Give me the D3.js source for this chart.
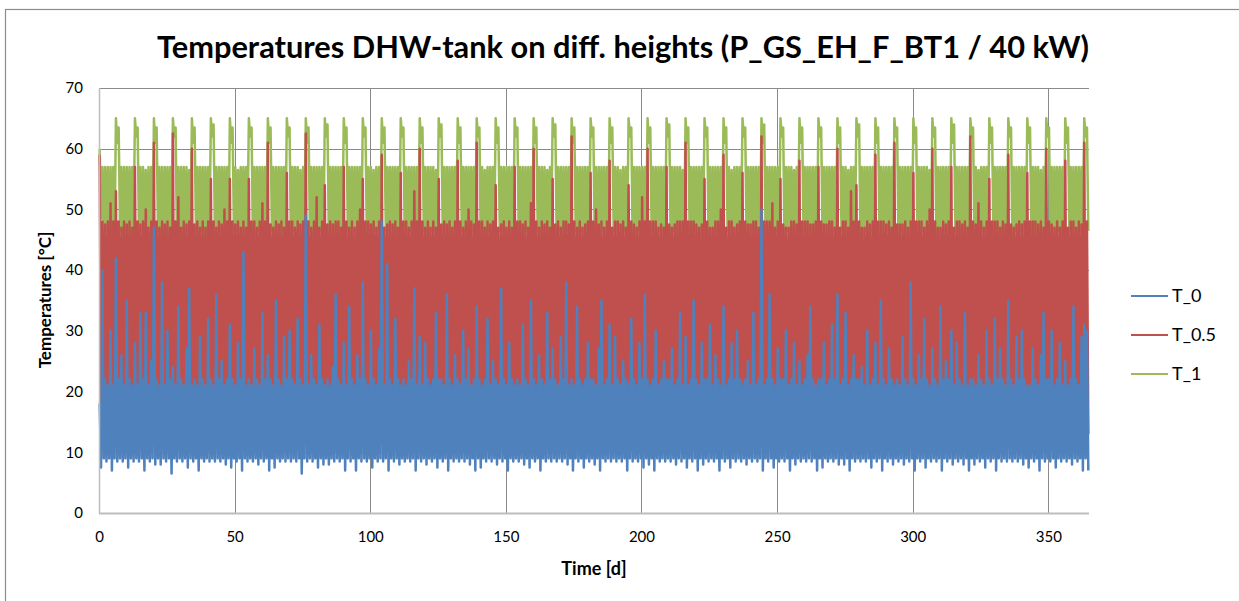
<!DOCTYPE html>
<html>
<head>
<meta charset="utf-8">
<script src="https://cdn.jsdelivr.net/npm/d3@7"></script>
<style>
  body { margin: 0; background: #fff; }
  svg { display: block; }
  text { font-family: Lato, "Open Sans", sans-serif; fill: #000; }
</style>
</head>
<body>
<svg id="canvas" width="1239" height="601"></svg>
<script>
// one row = one week (7 days), last row = day 364
// daily maxima / minima, in °C
const t1Hi = [
  60,57,57,57,57,57,65, 63.5,57,57,57,57,57,65, 63.5,57,57,56.5,57,57,65, 63.5,57,57,57,57,57,65, // w0-3
  63.5,57,57,57,57,56.5,65, 63.5,57,57,57,57,57,65, 64,57,57,57,57,57,65, 63.5,57,56.5,57,57,57,65, // w4-7
  63.5,57,57,57,57,57,65, 63.5,57,57,57,57,57,65, 63.5,57,57,57,56.5,57,65, 63.5,57,57,57,57,57,65, // w8-11
  64,57,57,57,57,57,65, 63.5,57,57,57,57,57,65, 63.5,57,57,56.5,57,57,65, 63.5,57,57,57,57,57,65, // w12-15
  63.5,57,57,57,57,57,65, 63.5,57,57,57,57,56.5,65, 64,57,57,57,57,57,65, 63.5,57,57,57,57,57,65, // w16-19
  63.5,57,56.5,57,57,57,65, 63.5,57,57,57,57,57,65, 63.5,57,57,57,57,57,65, 63.5,57,57,57,56.5,57,65, // w20-23
  64,57,57,57,57,57,65, 63.5,57,57,57,57,57,65, 63.5,57,57,57,57,57,65, 63.5,57,57,56.5,57,57,65, // w24-27
  63.5,57,57,57,57,57,65, 63.5,57,57,57,57,57,65, 64,57,57,57,57,56.5,65, 63.5,57,57,57,57,57,65, // w28-31
  63.5,57,57,57,57,57,65, 63.5,57,56.5,57,57,57,65, 63.5,57,57,57,57,57,65, 64,57,57,57,57,57,65, // w32-35
  63.5,57,57,57,56.5,57,65, 63.5,57,57,57,57,57,65, 63.5,57,57,57,57,57,65, 63.5,57,57,56.5,57,57,65, // w36-39
  64,57,57,57,57,57,65, 63.5,57,57,57,57,57,65, 63.5,57,57,57,57,57,65, 63.5,57,57,57,57,56.5,65, // w40-43
  63.5,57,57,57,57,57,65, 64,57,57,57,57,57,65, 63.5,57,56.5,57,57,57,65, 63.5,57,57,57,57,57,65, // w44-47
  63.5,57,57,57,57,57,65, 63.5,57,57,57,56.5,57,65, 63.5,57,57,57,57,57,65, 63.5,57,57,57,57,57,65, // w48-51
  63.5
];
const t1Lo = [
  48.5,45.5,46.5,44.5,46.5,45.5,61, 46.5,44.5,46.5,45.5,44,46.5,62, 45.5,46.5,44.5,46.5,45.5,44.5,61, 46.5,45.5,44.5,46.5,45.5,46.5,62, // w0-3
  44.5,46.5,45.5,44,46.5,45.5,61, 46.5,45.5,46.5,44.5,45.5,46.5,62, 45.5,44.5,46.5,45.5,46.5,44.5,61, 46.5,46.5,44.5,45.5,44.5,46.5,62, // w4-7
  44.5,45.5,46.5,46.5,45.5,44,61, 46.5,44.5,45.5,44.5,46.5,45.5,62, 45.5,46.5,44.5,46.5,45.5,46.5,61, 46.5,45.5,44,45.5,46.5,44.5,62, // w8-11
  44.5,46.5,45.5,46.5,44.5,46.5,61, 46.5,44.5,46.5,45.5,45.5,44.5,62, 45.5,45.5,44.5,46.5,46.5,45.5,61, 46.5,46.5,45.5,44.5,45.5,46.5,62, // w12-15
  44.5,45.5,46.5,45.5,44,45.5,61, 46.5,44.5,45.5,46.5,46.5,44.5,62, 45.5,46.5,44.5,45.5,45.5,46.5,61, 46.5,45.5,46.5,44.5,46.5,45.5,62, // w16-19
  44.5,44.5,45.5,46.5,45.5,46.5,61, 46.5,46.5,44,45.5,44.5,45.5,62, 45.5,45.5,46.5,46.5,46.5,44.5,61, 46.5,44.5,45.5,44.5,45.5,46.5,62, // w20-23
  44.5,46.5,44.5,46.5,46.5,45.5,61, 46.5,45.5,46.5,45.5,44.5,46.5,62, 45.5,44.5,45.5,46.5,45.5,44.5,61, 46.5,46.5,44.5,44,46.5,45.5,62, // w24-27
  44.5,45.5,46.5,45.5,45.5,46.5,61, 46.5,44.5,45.5,46.5,44.5,45.5,62, 45.5,46.5,44.5,45.5,46.5,44.5,61, 46.5,45.5,46.5,44.5,45.5,46.5,62, // w28-31
  44.5,44.5,45.5,46.5,46.5,45.5,61, 46.5,46.5,44,45.5,44.5,46.5,62, 45.5,45.5,46.5,46.5,45.5,44.5,61, 46.5,44.5,45.5,44.5,46.5,45.5,62, // w32-35
  44.5,46.5,44.5,46.5,45.5,46.5,61, 46.5,45.5,46.5,45.5,44.5,45.5,62, 45.5,44.5,45.5,46.5,46.5,44.5,61, 46.5,46.5,44.5,44,45.5,46.5,62, // w36-39
  44.5,45.5,46.5,45.5,46.5,45.5,61, 46.5,44.5,45.5,46.5,44.5,46.5,62, 45.5,46.5,44.5,45.5,45.5,44.5,61, 46.5,45.5,46.5,44.5,46.5,45.5,62, // w40-43
  44.5,44.5,45.5,46.5,45.5,46.5,61, 46.5,46.5,44,45.5,44.5,45.5,62, 45.5,45.5,46.5,46.5,46.5,44.5,61, 46.5,44.5,45.5,44.5,45.5,46.5,62, // w44-47
  44.5,46.5,44.5,46.5,46.5,45.5,61, 46.5,45.5,46.5,45.5,44.5,46.5,62, 45.5,44.5,45.5,46.5,45.5,44.5,61, 46.5,46.5,44.5,45.5,46.5,45.5,62, // w48-51
  46.5
];
const t05Hi = [
  59,48,47.5,48,51,48,53, 48,47,48,47.5,48,47,57, 48,47.5,48,50,47,48,61, 48,47,48,47.5,48,47,62.5, // w0-3
  48,52,47,48,47.5,48,60, 47.5,48,47,48,47,48,55, 48,47,48,47.5,50,48,55, 48,47.5,48,47,48,47,55, // w4-7
  48,48,47,48,51,48,61, 47.5,47,48,47.5,48,47,56, 48,48,47,48,47.5,48,62.5, 48,47,48,52,47,48,54, // w8-11
  47.5,48,47.5,48,48,47,57, 48,47,48,47,48,50,55, 48,48,47.5,48,47,48,59, 47,47.5,48,47.5,48,47,56, // w12-15
  48,48,47,48,53,48,60, 48,47,48,47,48,47,55, 47.5,48,47.5,48,47,48,58, 48,47,48,50,48,47.5,61, // w16-19
  48,48,47,48,47.5,48,54, 47,47.5,48,47,48,47,57, 48,48,47.5,48,47,51,60, 48,47,48,47.5,48,47,55, // w20-23
  47.5,48,47,48,48,47.5,62, 48,47,48,47,47.5,48,56, 48,50,47.5,48,47,48,58, 47,48,48,47.5,48,47,54, // w24-27
  48,47.5,47,48,52,48,60, 48,48,48,47,47.5,47,57, 47.5,47,47.5,48,48,48,61, 48,48,48,47.5,47,47.5,55, // w28-31
  48,47,47,48,48,50,59, 47,48,48,47,47.5,48,56, 48,47.5,47.5,48,48,47,62, 48,48,48,51,47,48,55, // w32-35
  47.5,47,47,48,48,47.5,58, 48,48,48,47.5,47.5,48,57, 48,47.5,47.5,48,48,47,60, 47,48,48,47,53,48,54, // w36-39
  48,47,47,48,47.5,48,59, 48,48,48,47.5,48,47,61, 47.5,47.5,47.5,48,47,48,56, 48,48,48,47,48,50,60, // w40-43
  48,47,47,48,47.5,48,57, 47,48,48,47.5,48,47,62, 48,47.5,51,48,47,48,55, 48,48,48,47,48,47.5,59, // w44-47
  47.5,47,47.5,48,47.5,48,56, 48,48,48,47.5,48,47,60, 48,47.5,47,48,47,48,58, 47,48,48,47,48,47.5,61, // w48-51
  48
];
const t05Lo = [
  15,19,18,13,20,17,19, 18,16,20,19,14,18,20, 19,18,15,20,17,19,13, 17,20,19,18,16,12.5,19, // w0-3
  20,17,14,19,18,20,17, 18,19,20,15,19,17,20, 16,18,19,20,13,19,18, 19,20,17,18,19,16,20, // w4-7
  18,15,19,20,17,19,14, 20,18,18,16,20,13,19, 17,19,20,19,15,18,20, 19,14,18,20,19,17,18, // w8-11
  18,20,16,17,20,19,15, 20,17,19,13,18,20,19, 16,19,20,18,19,15,20, 19,18,14,20,17,19,18, // w12-15
  18,20,19,17,20,14,19, 20,16,18,19,18,20,13, 17,19,20,15,19,18,20, 19,18,17,20,14,19,18, // w16-19
  18,20,19,18,20,16,19, 15,17,20,19,18,20,14, 20,19,18,14,19,17,20, 18,16,19,20,18,19,15, // w20-23
  19,20,13,18,20,17,19, 17,18,20,19,15,20,18, 20,19,18,16,19,18,14, 18,14,19,20,17,19,20, // w24-27
  19,20,17,18,20,13,19, 16,18,20,19,18,20,17, 20,19,15,17,19,18,20, 18,17,19,20,14,19,18, // w28-31
  19,20,18,16,20,17,15, 17,15,20,19,18,20,19, 20,19,17,18,19,14,20, 18,20,19,13,20,18,19, // w32-35
  19,17,18,20,16,19,15, 15,19,20,18,19,20,18, 20,18,14,19,18,17,20, 18,20,19,17,20,15,19, // w36-39
  17,19,18,20,13,19,18, 19,16,20,18,19,20,17, 20,18,19,14,18,19,20, 18,20,17,19,20,16,19, // w40-43
  16,19,20,18,17,20,14, 19,17,18,20,19,13,20, 20,19,15,18,20,18,19, 17,20,19,19,16,20,18, // w44-47
  19,18,20,14,19,17,20, 18,15,19,20,18,19,16, 20,19,18,17,20,14,19, 18,20,19,18,17,19,15, // w48-51
  13
];
const t0Hi = [
  18,40,22,21,30,21,42, 22,26,21,35,22,21,28, 21,33,22,33,21,25,47, 22,21,38,21,30,22,24, // w0-3
  21,34,22,21,27,37,21, 22,21,29,22,21,32,22, 21,36,22,25,21,22,31, 22,21,28,22,43,21,22, // w4-7
  21,27,22,21,33,22,26, 22,21,35,22,21,29,22, 30,22,21,32,22,21,49, 21,26,22,21,31,22,21, // w8-11
  22,21,24,36,22,21,28, 21,34,22,21,26,22,38, 22,21,30,22,21,27,48, 21,41,22,21,32,22,21, // w12-15
  22,21,25,22,37,21,29, 21,28,22,21,22,33,22, 22,21,36,22,21,26,22, 21,30,22,27,21,22,34, // w16-19
  22,21,22,32,21,25,22, 21,37,22,21,28,22,21, 22,21,31,22,21,35,22, 21,26,22,21,33,22,27, // w20-23
  22,21,29,22,38,21,22, 21,34,22,21,22,28,22, 22,21,27,35,21,22,31, 21,29,22,21,25,22,21, // w24-27
  32,22,21,28,22,36,22, 21,22,30,21,22,25,22, 22,27,21,22,33,21,29, 21,22,35,22,21,28,22, // w28-31
  22,31,21,26,22,21,34, 21,22,28,22,30,22,21, 22,25,21,33,21,22,50, 21,22,36,22,21,27,22, // w32-35
  22,30,21,22,28,21,25, 21,22,26,34,22,21,22, 22,28,21,22,31,22,36, 21,22,33,21,22,26,22, // w36-39
  22,24,21,30,21,22,28, 21,35,22,21,27,22,21, 22,21,29,22,21,38,22, 21,26,22,32,22,21,27, // w40-43
  22,21,34,22,25,22,30, 21,28,22,21,33,21,22, 22,21,26,22,21,30,22, 21,32,22,27,22,21,35, // w44-47
  22,21,29,22,30,22,21, 21,27,22,21,26,33,22, 22,30,21,22,28,21,25, 21,22,34,22,21,29,31, // w48-51
  30
];
const t0Lo = [
  7.5,9,8.5,9,7,9,8.5, 9,8.5,9,7.5,9,8.5,9, 8.5,9,7,9,8.5,9,8, 9,8,9,8.5,9,6.5,9, // w0-3
  8.5,9,8.5,9,7.5,9,8.5, 9,7,9,8.5,9,8.5,9, 8.5,9,8.5,9,8,9,7.5, 9,8.5,9,7,9,8.5,9, // w4-7
  8.5,9,8,9,8.5,9,7, 9,7.5,9,8.5,9,8.5,9, 8.5,9,8.5,9,6.5,9,8.5, 9,8.5,9,7.5,9,8,9, // w8-11
  8,9,8.5,9,8.5,9,7, 9,8.5,9,7,9,8.5,9, 8.5,9,7.5,9,8.5,9,8.5, 9,7,9,8.5,9,8,9, // w12-15
  8.5,9,8.5,9,7,9,8.5, 9,8,9,8.5,9,7.5,9, 8.5,9,7,9,8.5,9,8.5, 9,8.5,9,8,9,7,9, // w16-19
  7.5,9,8.5,9,8.5,9,8, 9,8.5,9,7,9,8.5,9, 8.5,9,8,9,7.5,9,8.5, 9,7,9,8.5,9,8.5,9, // w20-23
  8.5,9,8.5,9,8,9,7, 9,8.5,9,7.5,9,8.5,9, 8,9,7,9,8.5,9,8.5, 9,8.5,9,8.5,9,7,9, // w24-27
  8.5,9,8.5,9,7.5,9,8, 9,7,9,8.5,9,8.5,9, 8.5,9,8,9,8.5,9,7.5, 9,8.5,9,7,9,8,9, // w28-31
  8.5,9,8.5,9,7,9,8.5, 9,7.5,9,8.5,9,8.5,9, 8,9,8.5,9,8.5,9,7, 9,8.5,9,7.5,9,8.5,9, // w32-35
  8.5,9,7,9,8,9,8.5, 9,8.5,9,8.5,9,7,9, 7.5,9,8.5,9,8.5,9,8, 9,8,9,7,9,8.5,9, // w36-39
  8.5,9,8.5,9,7.5,9,8.5, 9,7,9,8.5,9,8,9, 8.5,9,8,9,8.5,9,7, 9,8.5,9,7.5,9,8.5,9, // w40-43
  8.5,9,7,9,8.5,9,8, 9,8.5,9,8,9,7,9, 8,9,8.5,9,7.5,9,8.5, 9,7,9,8.5,9,8.5,9, // w44-47
  8.5,9,8.5,9,8,9,7.5, 9,8.5,9,7,9,8.5,9, 8.5,9,7.5,9,8.5,9,8.5, 9,8,9,8.5,9,7,9, // w48-51
  7
];

const seriesNames = ["T_0", "T_0.5", "T_1"];
const seriesColors = ["#4F81BD", "#C0504D", "#9BBB59"];
const xTicks = [0, 50, 100, 150, 200, 250, 300, 350];
const yTicks = [0, 10, 20, 30, 40, 50, 60, 70];

const svg = d3.select("#canvas");
const W = 1239, H = 601;
const plot = {left: 99, right: 1089, top: 88, bottom: 513};

// chart frame (cut off at right/bottom like the screenshot)
svg.append("rect")
  .attr("x", 5.5).attr("y", 9.5)
  .attr("width", W + 10).attr("height", H + 10)
  .attr("fill", "none").attr("stroke", "#8c8c8c").attr("stroke-width", 1.2);

const x = d3.scaleLinear().domain([0, 365]).range([plot.left, plot.right]);
const y = d3.scaleLinear().domain([0, 70]).range([plot.bottom, plot.top]);

// gridlines
svg.append("g").selectAll("line.h")
  .data(yTicks.filter(d => d > 0))
  .enter().append("line")
  .attr("x1", plot.left).attr("x2", plot.right)
  .attr("y1", d => Math.round(y(d)) + 0.5).attr("y2", d => Math.round(y(d)) + 0.5)
  .attr("stroke", "#8a8a8a").attr("stroke-width", 1);
svg.append("g").selectAll("line.v")
  .data(xTicks.filter(d => d > 0))
  .enter().append("line")
  .attr("x1", d => Math.round(x(d)) + 0.5).attr("x2", d => Math.round(x(d)) + 0.5)
  .attr("y1", plot.top).attr("y2", plot.bottom)
  .attr("stroke", "#8a8a8a").attr("stroke-width", 1);

// two points per day: daily max then daily min
const toPoints = (hi, lo) => {
  const pts = [];
  hi.forEach((v, i) => {
    pts.push([i + 0.25, v]);
    pts.push([i + 0.75, lo[i]]);
  });
  return pts;
};
const series = [
  {name: "T_0", pts: toPoints(t0Hi, t0Lo), color: seriesColors[0]},
  {name: "T_0.5", pts: toPoints(t05Hi, t05Lo), color: seriesColors[1]},
  {name: "T_1", pts: toPoints(t1Hi, t1Lo), color: seriesColors[2]}
];

const line = d3.line().x(d => x(d[0])).y(d => y(d[1]));

// T_1 underneath, T_0 on top
svg.append("g").selectAll("path")
  .data(series.slice().reverse())
  .enter().append("path")
  .attr("d", d => line(d.pts))
  .attr("fill", "none")
  .attr("stroke", d => d.color)
  .attr("stroke-width", 2.5)
  .attr("stroke-linejoin", "round");

// axis lines
svg.append("line")
  .attr("x1", plot.left + 0.5).attr("x2", plot.left + 0.5)
  .attr("y1", plot.top).attr("y2", plot.bottom)
  .attr("stroke", "#bdbdbd").attr("stroke-width", 1.5);
svg.append("line")
  .attr("x1", plot.left).attr("x2", plot.right)
  .attr("y1", plot.bottom + 0.5).attr("y2", plot.bottom + 0.5)
  .attr("stroke", "#bdbdbd").attr("stroke-width", 2);

// tick labels
const yAxis = svg.append("g")
  .attr("transform", `translate(${plot.left},0)`)
  .call(d3.axisLeft(y).tickValues(yTicks).tickSize(0).tickPadding(16));
const xAxis = svg.append("g")
  .attr("transform", `translate(0,${plot.bottom})`)
  .call(d3.axisBottom(x).tickValues(xTicks).tickSize(0).tickPadding(18));
[yAxis, xAxis].forEach(a => {
  a.select(".domain").remove();
  a.selectAll("text").attr("font-family", "Lato, sans-serif").attr("font-size", 15).attr("fill", "#000");
});

// titles
svg.append("text")
  .attr("x", 623).attr("y", 58)
  .attr("text-anchor", "middle")
  .attr("font-size", 31).attr("font-weight", "bold")
  .attr("textLength", 932).attr("lengthAdjust", "spacingAndGlyphs")
  .text("Temperatures DHW-tank on diff. heights (P_GS_EH_F_BT1 / 40 kW)");
svg.append("text")
  .attr("x", 594).attr("y", 575)
  .attr("text-anchor", "middle")
  .attr("font-size", 18).attr("font-weight", "bold")
  .text("Time [d]");
svg.append("text")
  .attr("transform", "translate(51,300) rotate(-90)")
  .attr("text-anchor", "middle")
  .attr("font-size", 17).attr("font-weight", "bold")
  .text("Temperatures [°C]");

// legend
const legend = svg.append("g").selectAll("g")
  .data(seriesNames)
  .enter().append("g")
  .attr("transform", (d, i) => `translate(1131,${296 + i * 39})`);
legend.append("line")
  .attr("x1", 0).attr("x2", 37)
  .attr("stroke", (d, i) => seriesColors[i]).attr("stroke-width", 2);
legend.append("text")
  .attr("x", 41).attr("dy", "0.36em")
  .attr("font-size", 18)
  .text(d => d);
</script>
</body>
</html>
